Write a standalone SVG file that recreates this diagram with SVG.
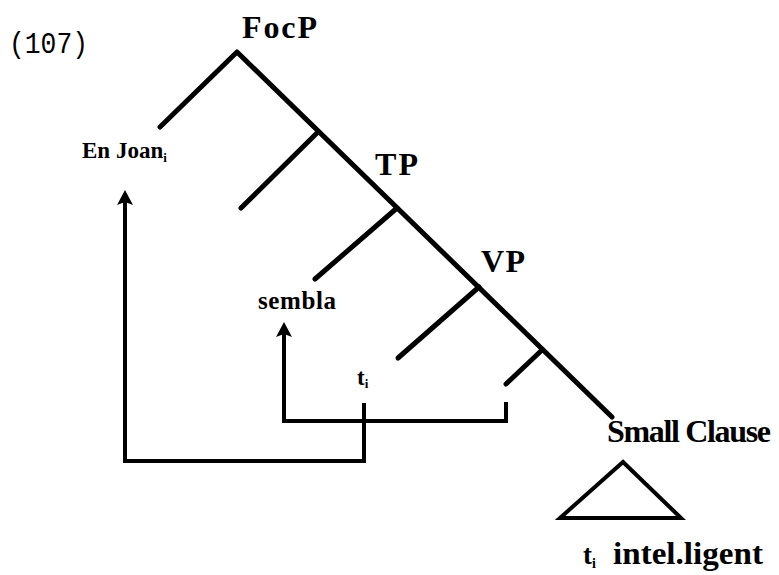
<svg xmlns="http://www.w3.org/2000/svg" width="779" height="575" viewBox="0 0 779 575">
<style>
.t{font-family:"Liberation Serif","Times New Roman",serif;font-weight:bold;fill:#000}
.e{stroke:#000;stroke-width:5;fill:none;stroke-linecap:round;stroke-linejoin:round}
.c{stroke:#000;stroke-width:4;fill:none;stroke-linejoin:miter}
.ah{fill:#000;stroke:none}
</style>
<rect width="779" height="575" fill="#fff"/>
<text x="9" y="53" font-family="Liberation Mono,Courier New,monospace" font-size="29" textLength="79" lengthAdjust="spacingAndGlyphs">(107)</text>
<g id="tree" class="e">
<path d="M160,127 L237,52 L612,417"/>
<path d="M318,132 L241,208"/>
<path d="M397,208 L315,279"/>
<path d="M479,287 L398,358"/>
<path d="M542,350 L506,384"/>
</g>
<g id="FocP"><text class="t" x="242" y="38" font-size="32" textLength="75">FocP</text></g>
<g id="EnJoan"><text class="t" x="82" y="158" font-size="23">En Joan<tspan font-size="13" dy="4">i</tspan></text></g>
<g id="TP"><text class="t" x="375" y="175" font-size="32" textLength="43">TP</text></g>
<g id="VP"><text class="t" x="481" y="272" font-size="32" textLength="44">VP</text></g>
<g id="sembla"><text class="t" x="258" y="309" font-size="25" textLength="78">sembla</text></g>
<g id="ti"><text class="t" x="357" y="385" font-size="23">t<tspan font-size="13" dy="3">i</tspan></text></g>
<g id="SmallClause"><text class="t" x="607" y="442" font-size="32" textLength="164">Small Clause</text></g>
<g id="triangle"><path class="c" d="M623,462 L681,518 L560,518 Z"/></g>
<g id="terminal">
<text class="t" x="583" y="564" font-size="27">t<tspan font-size="14" dy="4">i</tspan></text>
<text class="t" x="613" y="564" font-size="31" textLength="150" lengthAdjust="spacingAndGlyphs">intel.ligent</text>
</g>
<g id="connectors">
<path class="c" d="M364,403 L364,461 L125,461 L125,200"/>
<polygon class="ah" points="125,190 133,205 125,202 117,205"/>
<path class="c" d="M506,402 L506,421 L284,421 L284,332"/>
<polygon class="ah" points="284,322 292,337 284,334 276,337"/>
</g>
</svg>
